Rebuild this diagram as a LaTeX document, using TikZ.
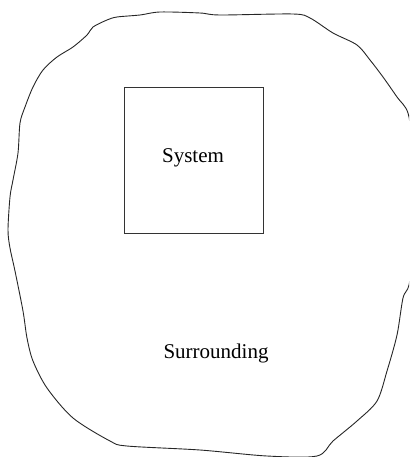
\documentclass[tikz,border=0pt]{standalone}
\usepackage{fontspec}
\setmainfont{Liberation Serif}
\usepackage{tikz}

\begin{document}
\begin{tikzpicture}[
    x=1pt, y=-1pt,
    outline/.style={draw=black!85, line width=0.9pt, line join=round},
    sysbox/.style={draw=black!80, line width=0.8pt, minimum width=139pt,
                   minimum height=146pt, inner sep=0pt},
    lbl/.style={font=\fontsize{21}{25}\selectfont, inner sep=0pt, anchor=base}
]
\useasboundingbox (0,0) rectangle (409,457);
\clip (0,0) rectangle (409,457);

% --- Surrounding: hand-drawn boundary ---
\draw[outline] plot[smooth cycle, tension=0.5] coordinates {
  (160,12) (200,13) (220,15) (293,14) (310,18) (333,33) (357,45)
  (370,60) (383,77) (397,97) (408,113) (413,150) (415,200) (413,250)
  (409,285) (403,298) (397,335) (387,371) (377,401) (357,421)
  (333,441) (317,456) (267,456) (200,450) (127,446) (110,441)
  (73,418) (47,388) (33,361) (27,338) (23,311) (15,271) (10,248)
  (8,230) (10,197) (13,180) (18,153) (20,123) (25,107) (33,87)
  (43,70) (57,57) (73,47) (87,35) (93,27) (107,20) (117,17) (140,15)};

% --- System box and labels ---
\node[sysbox] (system) at (193.5,160) {};
\node[lbl] (systext) at (193,163) {System};
\node[lbl] (surrtext) at (216,358) {Surrounding};

\end{tikzpicture}
\end{document}
